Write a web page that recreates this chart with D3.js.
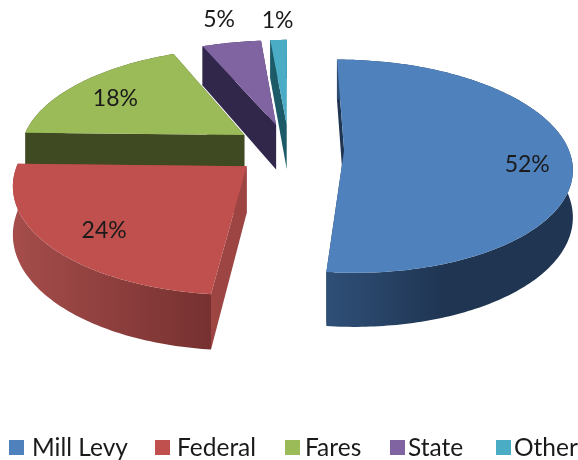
<!DOCTYPE html>
<html>
    <head>
        <meta charset="utf-8">
        <script src="https://cdn.jsdelivr.net/npm/d3@7"></script>
        <style>
            body { margin: 0; background: white; }
            svg { filter: blur(0.5px); }
            text { font-family: Lato, "Open Sans", sans-serif; fill: #1a1a1a; }
        </style>
        <script>
            const categories = ["Mill Levy", "Federal", "Fares", "State", "Other"];
            const shares = [51.6, 23.7, 18.2, 5.0, 1.4];

            const topColors = ["#4f81bd", "#c0504d", "#9bbb59", "#8064a2", "#4bacc6"];
            const sideColors = ["#1f3552", "#9c4543", "#404a22", "#31274a", "#1d5a68"];
            const rimLight = ["#2f4f77", "#a54d4b", "#404a22", "#31274a", "#1d5a68"];
            const rimDark = ["#1f3552", "#763130", "#404a22", "#31274a", "#1d5a68"];

            // label spot as a fraction of the radius, then a small nudge
            const labelRadius = [0.8, 0.75, 0.8, 1.3, 1.3];
            const labelNudgeX = [2, 1, 5, -1, 1];
            const labelNudgeY = [11, 7, 7, 0, 4];

            const legendSwatchX = [9, 155, 285, 390, 496];
            const legendTextX = [32, 177, 305, 408, 514];

            function makeSVG() {

                var svg = d3.select("#fig");

                // perspective of the tilted pie
                const cx = 289, cy = 149;
                const radius = 220, explode = 54, thick = 45;
                const tilt = 0.463, viewDist = 1480, zoom = 1.02;

                function project(X, Z, h) {
                    const s = zoom / (1 - Z / viewDist);
                    return [cx + X * s, cy + tilt * Z * s + h * s];
                }

                const slices = d3.pie().sort(null)(shares);

                slices.forEach(d => {
                    const mid = (d.startAngle + d.endAngle) / 2;
                    d.ox = explode * Math.sin(mid);
                    d.oz = -explode * Math.cos(mid);
                    d.mid = mid;
                });

                const at = (d, a, r, h) => project(d.ox + r * Math.sin(a), d.oz - r * Math.cos(a), h);

                function rim(d, h) {
                    const n = Math.max(4, Math.round((d.endAngle - d.startAngle) * 60));
                    return d3.range(n + 1).map(i => at(d, d.startAngle + (d.endAngle - d.startAngle) * i / n, radius, h));
                }

                const line = d3.line();

                // gradients for the outer walls
                const defs = svg.append("defs");
                slices.forEach((d, i) => {
                    const xs = rim(d, 0).map(p => p[0]);
                    const g = defs.append("linearGradient")
                                  .attr("id", "rim" + i)
                                  .attr("gradientUnits", "userSpaceOnUse")
                                  .attr("x1", i == 0 ? at(d, d.endAngle, radius, 0)[0] : d3.min(xs))
                                  .attr("x2", i == 0 ? at(d, d.endAngle, radius, 0)[0] + 120 : at(d, d.startAngle, radius, 0)[0])
                                  .attr("y1", 0).attr("y2", 0);
                    g.append("stop").attr("offset", 0).attr("stop-color", rimLight[i]);
                    g.append("stop").attr("offset", 1).attr("stop-color", rimDark[i]);
                });

                // back to front: smallest slices are the farthest
                const order = d3.range(slices.length).reverse();

                order.forEach(i => {
                    const d = slices[i];
                    const g = svg.append("g");
                    const top = rim(d, 0), low = rim(d, thick);

                    // the two cut faces
                    [d.startAngle, d.endAngle].forEach(a => {
                        g.append("path")
                         .attr("d", line([at(d, a, radius, 0), at(d, 0, 0, 0), at(d, 0, 0, thick), at(d, a, radius, thick)]) + "Z")
                         .attr("fill", sideColors[i]);
                    });

                    // outer wall
                    g.append("path")
                     .attr("d", line(top.concat(low.slice().reverse())) + "Z")
                     .attr("fill", `url(#rim${i})`);

                    // top face
                    g.append("path")
                     .attr("d", line([at(d, 0, 0, 0)].concat(top)) + "Z")
                     .attr("fill", topColors[i]);
                });

                // value labels
                slices.forEach((d, i) => {
                    const p = at(d, d.mid, radius * labelRadius[i], 0);
                    svg.append("text")
                       .attr("x", p[0] + labelNudgeX[i])
                       .attr("y", p[1] + labelNudgeY[i])
                       .attr("text-anchor", "middle")
                       .attr("dominant-baseline", "middle")
                       .attr("font-size", 23)
                       .text(Math.round(shares[i]) + "%");
                });

                // legend
                const legend = svg.append("g");
                categories.forEach((c, i) => {
                    legend.append("rect")
                          .attr("x", legendSwatchX[i])
                          .attr("y", 440)
                          .attr("width", 15)
                          .attr("height", 15)
                          .attr("fill", topColors[i]);
                    legend.append("text")
                          .attr("x", legendTextX[i])
                          .attr("y", 456)
                          .attr("font-size", 24.5)
                          .text(c);
                });
            }
        </script>
    </head>
    <body onload="makeSVG()">

        <svg id="fig" width="578" height="460" style="display:block"></svg>

    </body>
</html>
